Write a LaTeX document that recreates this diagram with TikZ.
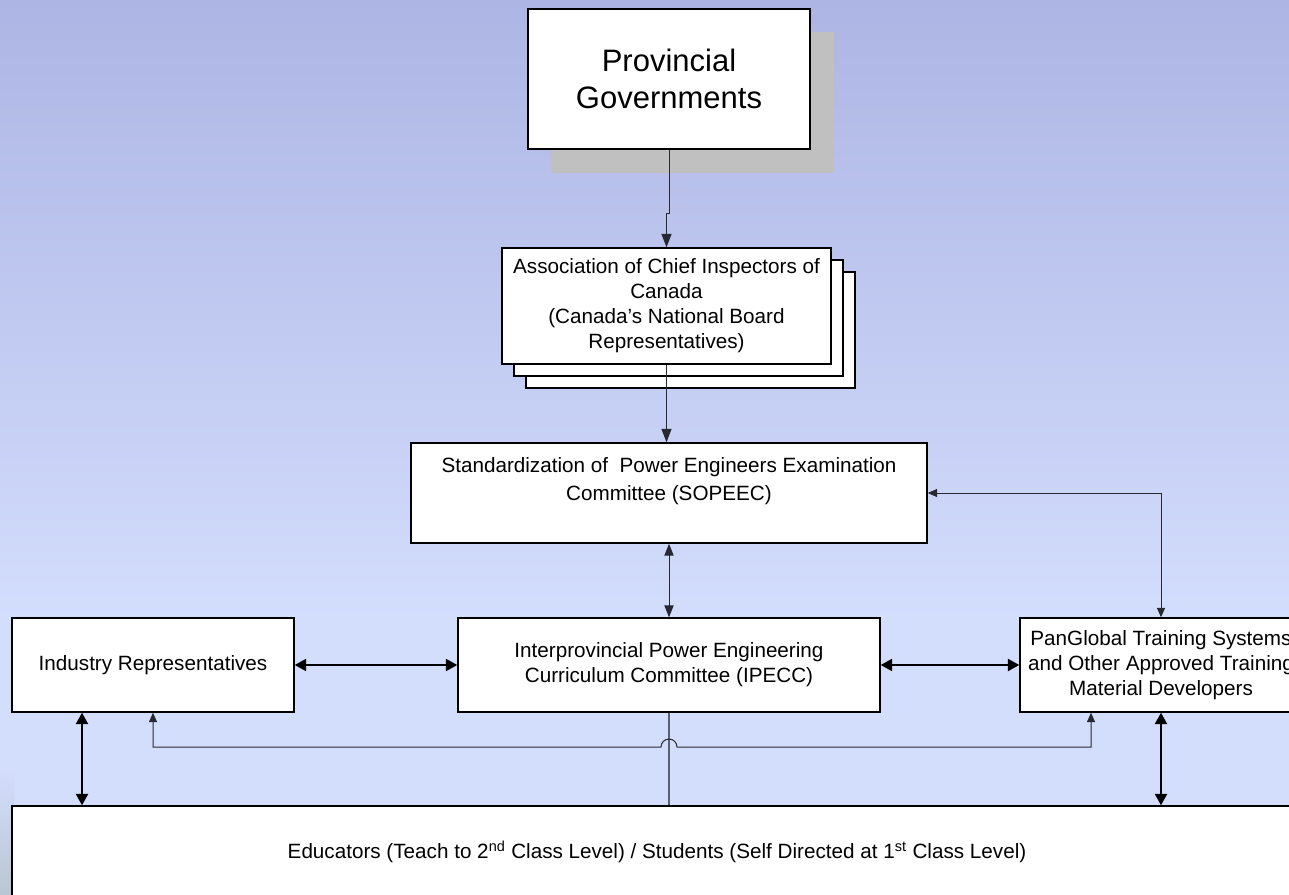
\documentclass[tikz,border=0pt]{standalone}
\usepackage{fontspec}
\setmainfont{Liberation Sans}
\usetikzlibrary{arrows.meta}
\newdimen\pu \pu=0.75pt
\definecolor{bgtop}{RGB}{173,181,228}
\definecolor{bgbot}{RGB}{211,221,252}
\definecolor{bgcorner}{RGB}{186,198,212}
\definecolor{shadowgray}{RGB}{192,192,192}
\definecolor{hopgray}{RGB}{90,96,112}
\definecolor{lnk}{RGB}{40,40,50}
\begin{document}
\begin{tikzpicture}[x=0.75pt,y=-0.75pt,
  box/.style={draw=black, line width=1.1pt, fill=white, inner sep=0pt, align=center,
    font=\fontsize{15.5}{18.7}\selectfont},
  bigbox/.style={box, font=\fontsize{23.25}{27.9}\selectfont},
  thinlink/.style={draw=lnk, line width=0.75pt},
  thinarr/.style={thinlink, {Triangle[length=9pt,width=7pt]}-{Triangle[length=9pt,width=7pt]}},
  downarr/.style={thinlink, -{Triangle[length=10pt,width=7.5pt]}},
  thickarr/.style={draw=black, line width=1.5pt, {Triangle[length=8.5pt,width=9pt]}-{Triangle[length=8.5pt,width=9pt]}},
  smallarr/.style={thinlink, {Triangle[length=7pt,width=6pt]}-{Triangle[length=7pt,width=6pt]}}
]
\useasboundingbox (0,0) rectangle (1289,895);
\clip (0,0) rectangle (1289,895);
% background
\fill[bgbot] (0,0) rectangle (1289,895);
\shade[top color=bgtop, bottom color=bgbot] (0,0) rectangle (1289,620);
\shade[top color=bgbot, bottom color=bgcorner] (0,770) rectangle (14,895);

% Provincial Governments with shadow
\node[fill=shadowgray, inner sep=0pt, minimum width=283\pu, minimum height=141\pu] (provshadow) at (692.5,102.5) {};
\node[bigbox, minimum width=282\pu, minimum height=140\pu] (prov) at (669,79) {Provincial\\Governments};

% ACIC stack
\node[box, minimum width=329\pu, minimum height=116\pu] (acicc) at (690.5,330) {};
\node[box, minimum width=329\pu, minimum height=116\pu] (acicb) at (678.5,318) {};
\node[box, minimum width=329\pu, minimum height=116\pu] (acic) at (666.5,306)
  {Association of Chief Inspectors of\\Canada\\(Canada’s National Board\\Representatives)};

% SOPEEC
\node[box, minimum width=516\pu, minimum height=100\pu, font=\fontsize{15.5}{21}\selectfont] (sopeec) at (669,493)
  {Standardization of~ Power Engineers Examination\\Committee (SOPEEC)\\\mbox{}};

% second row
\node[box, minimum width=282\pu, minimum height=94\pu] (ind) at (153,665) {Industry Representatives};
\node[box, minimum width=422\pu, minimum height=94\pu] (ipecc) at (669,665)
  {Interprovincial Power Engineering\\Curriculum Committee (IPECC)};
\node[box, minimum width=282\pu, minimum height=94\pu] (pan) at (1161,665)
  {PanGlobal Training Systems\\and Other Approved Training\\Material Developers};

% Educators
\node[box, minimum width=1290\pu, minimum height=92\pu] (edu) at (657,852)
  {Educators (Teach to 2\textsuperscript{nd} Class Level) / Students (Self Directed at 1\textsuperscript{st} Class Level)};

% connectors
\draw[downarr] (prov.south) -- ++(0,64) -| (acic.north);
\draw[downarr] (acic.south) -- (acic.south |- sopeec.north);
\draw[thinarr] (sopeec.south) -- (ipecc.north);
\draw[smallarr] (sopeec.east) -| (pan.north);
\draw[thickarr] (ind.east) -- (ipecc.west);
\draw[thickarr] (ipecc.east) -- (pan.west);
\coordinate (indfoot) at ([xshift=-71\pu]ind.south);
\coordinate (panfoot) at ([xshift=-70\pu]pan.south);
\draw[thickarr] (indfoot) -- (indfoot |- edu.north);
\draw[thickarr] (pan.south) -- (pan.south |- edu.north);
\draw[draw=hopgray, line width=1pt] (ipecc.south) -- (ipecc.south |- edu.north);
\coordinate (hopl) at (661,747);
\coordinate (hopr) at (677,747);
\draw[smallarr] (ind.south) |- (hopl) arc[start angle=180, end angle=0, radius=6pt] -- (hopr) -| (panfoot);
\end{tikzpicture}
\end{document}
